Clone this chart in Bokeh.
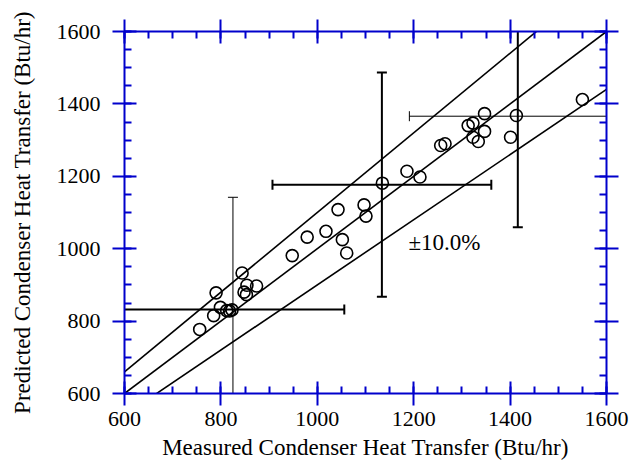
from bokeh.plotting import figure
from bokeh.models import (Range1d, LinearAxis, SingleIntervalTicker,
                          CustomJSTickFormatter, Label, ColumnDataSource)
from bokeh.embed import file_html
from bokeh.resources import INLINE
import math

# ---- data ----
measured = [756, 785, 790, 799, 812, 818, 823, 844, 848, 853, 854, 874,
            948, 979, 1018, 1043, 1052, 1061, 1097, 1101, 1135, 1186, 1213,
            1256, 1265, 1313, 1323, 1347, 1323, 1347, 1334, 1401, 1413, 1550]
predicted = [777, 815, 878, 838, 829, 828, 831, 933, 880, 873, 899, 897,
             981, 1032, 1048, 1108, 1025, 988, 1121, 1090, 1181, 1214, 1198,
             1285, 1290, 1340, 1347, 1373, 1308, 1324, 1296, 1308, 1368, 1412]

eb_x = [825, 1134, 1416]
eb_y = [832, 1177, 1366]
eb_xerr = [231, 227, 225]
eb_yerr = [310, 310, 307]

band_factors = [1.0, 1.1, 0.9]
line_x = [600, 1600]
band_label = "\u00b110.0%"
band_label_pos = (1189, 1018)

x_title = "Measured Condenser Heat Transfer (Btu/hr)"
y_title = "Predicted Condenser Heat Transfer (Btu/hr)"

# ---- styles ----
FONT = "Liberation Serif"
BLUE = "#0000cc"
h_widths = [2, 2, 1]
v_widths = [1, 2, 2]

p = figure(width=631, height=467,
           x_range=Range1d(600, 1600), y_range=Range1d(600, 1600),
           output_backend="svg", toolbar_location=None,
           min_border_left=124, min_border_right=25,
           min_border_top=31, min_border_bottom=74)
p.grid.visible = False
p.outline_line_color = None
p.background_fill_color = "white"


def style_axis(ax):
    ax.ticker = SingleIntervalTicker(interval=200, num_minor_ticks=4)
    ax.axis_line_color = BLUE
    ax.axis_line_width = 2
    ax.major_tick_line_color = BLUE
    ax.major_tick_line_width = 2
    ax.major_tick_in = 12
    ax.major_tick_out = 12
    ax.minor_tick_line_color = BLUE
    ax.minor_tick_line_width = 2
    ax.minor_tick_in = 7
    ax.minor_tick_out = 0
    ax.major_label_text_font = FONT
    ax.major_label_text_font_size = "22px"
    ax.major_label_text_color = "black"
    ax.axis_label_text_font = FONT
    ax.axis_label_text_font_size = "23px"
    ax.axis_label_text_font_style = "normal"
    ax.axis_label_text_color = "black"


xa = p.xaxis[0]
ya = p.yaxis[0]
style_axis(xa)
style_axis(ya)
xa.axis_label = x_title
ya.axis_label = y_title
xa.major_label_standoff = 6
xa.axis_label_standoff = 6
ya.major_label_standoff = 12
ya.axis_label_standoff = 19

for loc in ("above", "right"):
    ax = LinearAxis()
    style_axis(ax)
    ax.formatter = CustomJSTickFormatter(code="return '';")
    ax.major_label_standoff = 0
    p.add_layout(ax, loc)

# reference lines
for f in band_factors:
    p.line(line_x, [f * v for v in line_x], line_color="black", line_width=1.6)

# error bars
src = ColumnDataSource(dict(
    x=eb_x, y=eb_y,
    xl=[a - b for a, b in zip(eb_x, eb_xerr)],
    xr=[a + b for a, b in zip(eb_x, eb_xerr)],
    yl=[a - b for a, b in zip(eb_y, eb_yerr)],
    yh=[a + b for a, b in zip(eb_y, eb_yerr)],
    hw=h_widths, vw=v_widths))
p.segment(x0="xl", y0="y", x1="xr", y1="y", line_width="hw", line_color="black", source=src)
p.segment(x0="x", y0="yl", x1="x", y1="yh", line_width="vw", line_color="black", source=src)
for xc in ("xl", "xr"):
    p.scatter(x=xc, y="y", marker="dash", size=10, angle=math.pi / 2,
              line_width="hw", line_color="black", source=src)
for yc in ("yl", "yh"):
    p.scatter(x="x", y=yc, marker="dash", size=10, angle=0,
              line_width="vw", line_color="black", source=src)

# data points
p.scatter(measured, predicted, marker="circle", size=12, fill_color=None,
          line_color="black", line_width=1.6)

p.add_layout(Label(x=band_label_pos[0], y=band_label_pos[1], text=band_label,
                   text_font=FONT, text_font_size="23px", text_color="black",
                   text_baseline="alphabetic"))

open("out.html", "w").write(file_html(p, INLINE))
